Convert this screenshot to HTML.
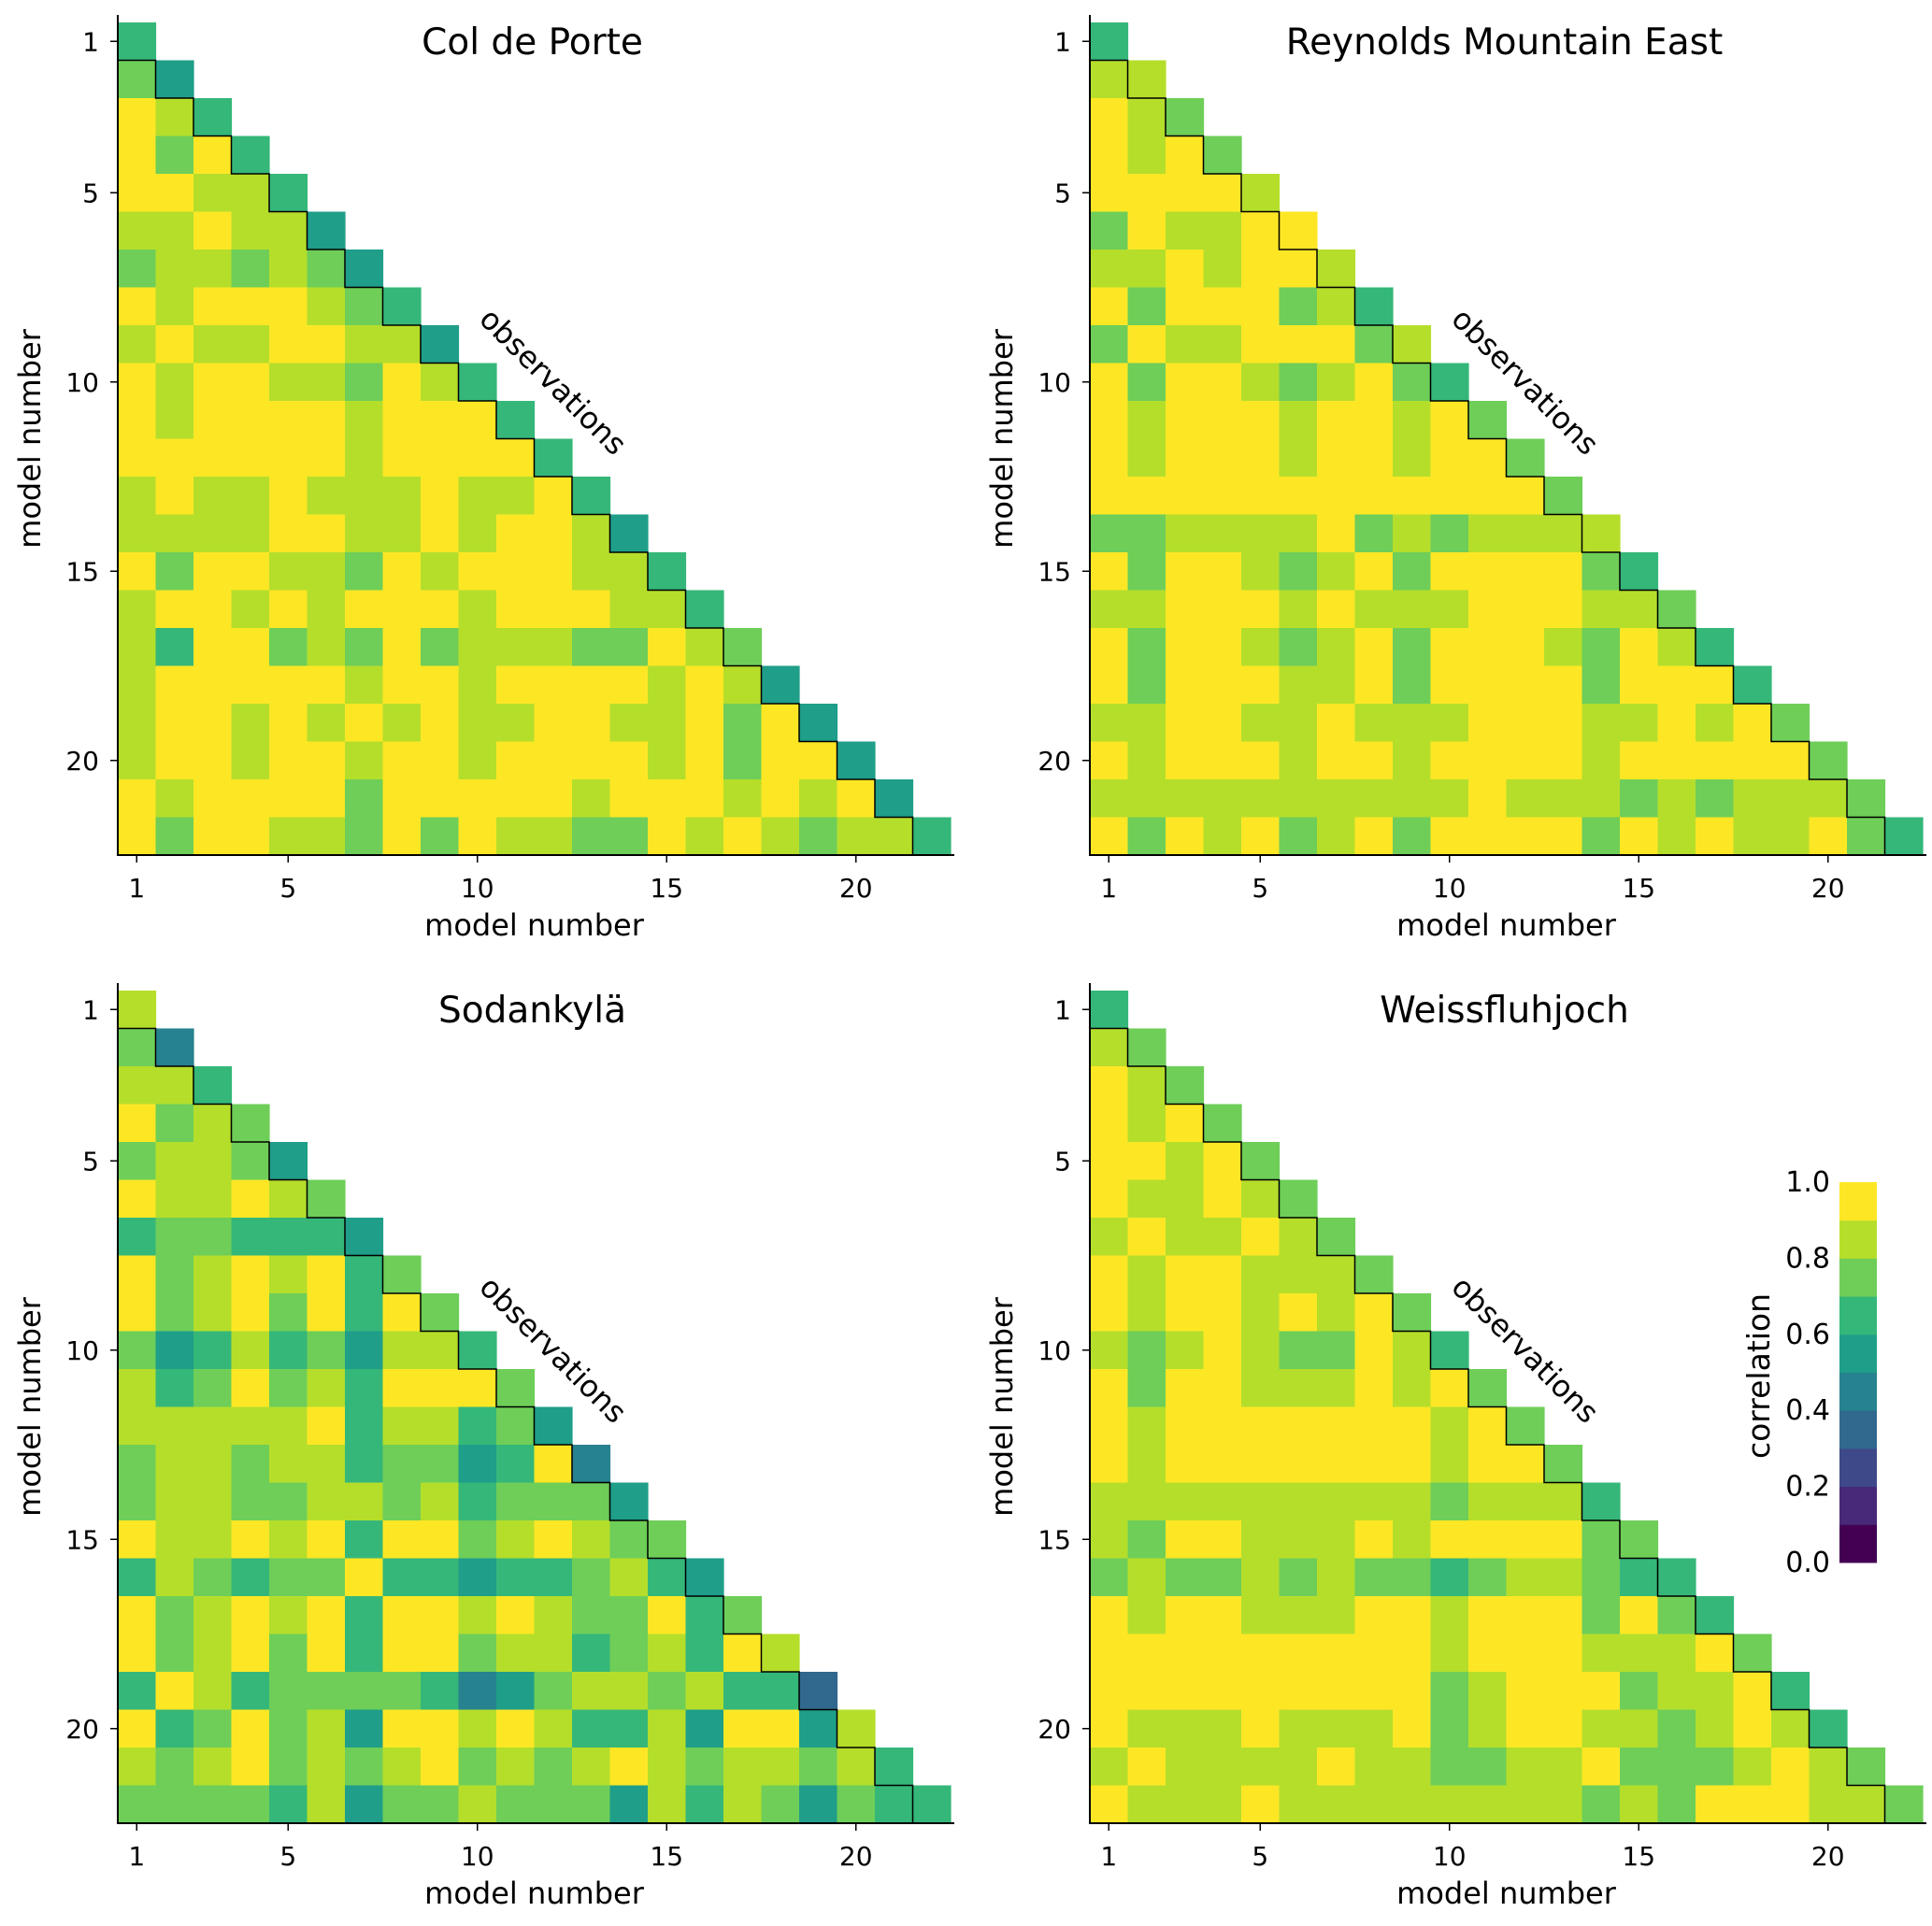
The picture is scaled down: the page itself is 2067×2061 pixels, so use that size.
<!DOCTYPE html>
<html><head><meta charset="utf-8"><style>
html,body{margin:0;padding:0;background:#fff;}
svg{display:block;font-family:"DejaVu Sans","Liberation Sans",sans-serif;}
</style></head><body>
<svg id="fig" width="2067" height="2061" viewBox="0 0 2067 2061" xmlns="http://www.w3.org/2000/svg"></svg>
<script>
// Per-panel lower-triangular correlation matrices (row i has i values; last value = diagonal/observations)
const colDePorte = [
[.65],
[.75,.55],
[.95,.85,.65],
[.95,.75,.95,.65],
[.95,.95,.85,.85,.65],
[.85,.85,.95,.85,.85,.55],
[.75,.85,.85,.75,.85,.75,.55],
[.95,.85,.95,.95,.95,.85,.75,.65],
[.85,.95,.85,.85,.95,.95,.85,.85,.55],
[.95,.85,.95,.95,.85,.85,.75,.95,.85,.65],
[.95,.85,.95,.95,.95,.95,.85,.95,.95,.95,.65],
[.95,.95,.95,.95,.95,.95,.85,.95,.95,.95,.95,.65],
[.85,.95,.85,.85,.95,.85,.85,.85,.95,.85,.85,.95,.65],
[.85,.85,.85,.85,.95,.95,.85,.85,.95,.85,.95,.95,.85,.55],
[.95,.75,.95,.95,.85,.85,.75,.95,.85,.95,.95,.95,.85,.85,.65],
[.85,.95,.95,.85,.95,.85,.95,.95,.95,.85,.95,.95,.95,.85,.85,.65],
[.85,.65,.95,.95,.75,.85,.75,.95,.75,.85,.85,.85,.75,.75,.95,.85,.75],
[.85,.95,.95,.95,.95,.95,.85,.95,.95,.85,.95,.95,.95,.95,.85,.95,.85,.55],
[.85,.95,.95,.85,.95,.85,.95,.85,.95,.85,.85,.95,.95,.85,.85,.95,.75,.95,.55],
[.85,.95,.95,.85,.95,.95,.85,.95,.95,.85,.95,.95,.95,.95,.85,.95,.75,.95,.95,.55],
[.95,.85,.95,.95,.95,.95,.75,.95,.95,.95,.95,.95,.85,.95,.95,.95,.85,.95,.85,.95,.55],
[.95,.75,.95,.95,.85,.85,.75,.95,.75,.95,.85,.85,.75,.75,.95,.85,.95,.85,.75,.85,.85,.65]
];
const reynolds = [
[.65],
[.85,.85],
[.95,.85,.75],
[.95,.85,.95,.75],
[.95,.95,.95,.95,.85],
[.75,.95,.85,.85,.95,.95],
[.85,.85,.95,.85,.95,.95,.85],
[.95,.75,.95,.95,.95,.75,.85,.65],
[.75,.95,.85,.85,.95,.95,.95,.75,.85],
[.95,.75,.95,.95,.85,.75,.85,.95,.75,.65],
[.95,.85,.95,.95,.95,.85,.95,.95,.85,.95,.75],
[.95,.85,.95,.95,.95,.85,.95,.95,.85,.95,.95,.75],
[.95,.95,.95,.95,.95,.95,.95,.95,.95,.95,.95,.95,.75],
[.75,.75,.85,.85,.85,.85,.95,.75,.85,.75,.85,.85,.85,.85],
[.95,.75,.95,.95,.85,.75,.85,.95,.75,.95,.95,.95,.95,.75,.65],
[.85,.85,.95,.95,.95,.85,.95,.85,.85,.85,.95,.95,.95,.85,.85,.75],
[.95,.75,.95,.95,.85,.75,.85,.95,.75,.95,.95,.95,.85,.75,.95,.85,.65],
[.95,.75,.95,.95,.95,.85,.85,.95,.75,.95,.95,.95,.95,.75,.95,.95,.95,.65],
[.85,.85,.95,.95,.85,.85,.95,.85,.85,.85,.95,.95,.95,.85,.85,.95,.85,.95,.75],
[.95,.85,.95,.95,.95,.85,.95,.95,.85,.95,.95,.95,.95,.85,.95,.95,.95,.95,.95,.75],
[.85,.85,.85,.85,.85,.85,.85,.85,.85,.85,.95,.85,.85,.85,.75,.85,.75,.85,.85,.85,.75],
[.95,.75,.95,.85,.95,.75,.85,.95,.75,.95,.95,.95,.95,.75,.95,.85,.95,.85,.85,.95,.75,.65]
];
const sodankyla = [
[.85],
[.75,.45],
[.85,.85,.65],
[.95,.75,.85,.75],
[.75,.85,.85,.75,.55],
[.95,.85,.85,.95,.85,.75],
[.65,.75,.75,.65,.65,.65,.55],
[.95,.75,.85,.95,.85,.95,.65,.75],
[.95,.75,.85,.95,.75,.95,.65,.95,.75],
[.75,.55,.65,.85,.65,.75,.55,.85,.85,.65],
[.85,.65,.75,.95,.75,.85,.65,.95,.95,.95,.75],
[.85,.85,.85,.85,.85,.95,.65,.85,.85,.65,.75,.55],
[.75,.85,.85,.75,.85,.85,.65,.75,.75,.55,.65,.95,.45],
[.75,.85,.85,.75,.75,.85,.85,.75,.85,.65,.75,.75,.75,.55],
[.95,.85,.85,.95,.85,.95,.65,.95,.95,.75,.85,.95,.85,.75,.75],
[.65,.85,.75,.65,.75,.75,.95,.65,.65,.55,.65,.65,.75,.85,.65,.55],
[.95,.75,.85,.95,.85,.95,.65,.95,.95,.85,.95,.85,.75,.75,.95,.65,.75],
[.95,.75,.85,.95,.75,.95,.65,.95,.95,.75,.85,.85,.65,.75,.85,.65,.95,.85],
[.65,.95,.85,.65,.75,.75,.75,.75,.65,.45,.55,.75,.85,.85,.75,.85,.65,.65,.35],
[.95,.65,.75,.95,.75,.85,.55,.95,.95,.85,.95,.85,.65,.65,.85,.55,.95,.95,.55,.85],
[.85,.75,.85,.95,.75,.85,.75,.85,.95,.75,.85,.75,.85,.95,.85,.75,.85,.85,.75,.85,.65],
[.75,.75,.75,.75,.65,.85,.55,.75,.75,.85,.75,.75,.75,.55,.85,.65,.85,.75,.55,.75,.65,.65]
];
const weissfluhjoch = [
[.65],
[.85,.75],
[.95,.85,.75],
[.95,.85,.95,.75],
[.95,.95,.85,.95,.75],
[.95,.85,.85,.95,.85,.75],
[.85,.95,.85,.85,.95,.85,.75],
[.95,.85,.95,.95,.85,.85,.85,.75],
[.95,.85,.95,.95,.85,.95,.85,.95,.75],
[.85,.75,.85,.95,.85,.75,.75,.95,.85,.65],
[.95,.75,.95,.95,.85,.85,.85,.95,.85,.95,.75],
[.95,.85,.95,.95,.95,.95,.95,.95,.95,.85,.95,.75],
[.95,.85,.95,.95,.95,.95,.95,.95,.95,.85,.95,.95,.75],
[.85,.85,.85,.85,.85,.85,.85,.85,.85,.75,.85,.85,.85,.65],
[.85,.75,.95,.95,.85,.85,.85,.95,.85,.95,.95,.95,.95,.75,.75],
[.75,.85,.75,.75,.85,.75,.85,.75,.75,.65,.75,.85,.85,.75,.65,.65],
[.95,.85,.95,.95,.85,.85,.85,.95,.95,.85,.95,.95,.95,.75,.95,.75,.65],
[.95,.95,.95,.95,.95,.95,.95,.95,.95,.85,.95,.95,.95,.85,.85,.85,.95,.75],
[.95,.95,.95,.95,.95,.95,.95,.95,.95,.75,.85,.95,.95,.95,.75,.85,.85,.95,.65],
[.95,.85,.85,.85,.95,.85,.85,.85,.95,.75,.85,.95,.95,.85,.85,.75,.85,.95,.85,.65],
[.85,.95,.85,.85,.85,.85,.95,.85,.85,.75,.75,.85,.85,.95,.75,.75,.75,.85,.95,.85,.75],
[.95,.85,.85,.85,.95,.85,.85,.85,.85,.85,.85,.85,.85,.75,.85,.75,.95,.95,.95,.85,.85,.75]
];
const panelTitles = ["Col de Porte","Reynolds Mountain East","Sodankylä","Weissfluhjoch"];
const tickValues = [1,5,10,15,20];
const tickLabels = ["1","5","10","15","20"];
const cbarTicks = [0.0,0.2,0.4,0.6,0.8,1.0];
const cbarLabels = ["0.0","0.2","0.4","0.6","0.8","1.0"];
const palette = ["#440154","#482878","#3e4989","#31688e","#26828e","#1f9e89","#35b779","#6ece58","#b5de2b","#fde725"];

const NS = "http://www.w3.org/2000/svg";
const svg = document.getElementById('fig');
function mk(tag, attrs, parent){
  const e = document.createElementNS(NS, tag);
  for (const k in attrs) e.setAttribute(k, attrs[k]);
  (parent||svg).appendChild(e);
  return e;
}
function colorOf(v){ let b = Math.floor(v*10); if (b>9) b=9; if (b<0) b=0; return palette[b]; }

const N = 22, CW = 40.5;
const panels = [
  {data: colDePorte, x0: 126, y0: 24},
  {data: reynolds, x0: 1166, y0: 24},
  {data: sodankyla, x0: 126, y0: 1060},
  {data: weissfluhjoch, x0: 1166, y0: 1060}
];

panels.forEach((p, pi) => {
  const g = mk('g', {});
  
  
  const xs = c => p.x0 + (c-1)*CW;
  const ys = r => p.y0 + (r-1)*CW;
  p.data.forEach((row, ri) => {
    row.forEach((v, ci) => {
      const r = mk('rect', {x: xs(ci+1), y: ys(ri+1), width: CW+0.6, height: CW+0.6, fill: colorOf(v)}, g);
      
      
    });
  });
  let d = 'M' + p.x0 + ',' + ys(2);
  for (let k=1; k<=N-1; k++){ d += ' H' + xs(k+1) + ' V' + ys(k+2 > N+1 ? N+1 : k+2); }
  const st = mk('path', {d: d, fill: 'none', stroke: '#000', 'stroke-width': 1.5}, g);
  
  
  const bottom = p.y0 + N*CW, right = p.x0 + N*CW;
  const sp1 = mk('line', {x1: p.x0, y1: p.y0-8, x2: p.x0, y2: bottom, stroke:'#000','stroke-width':2}, g);
  
  
  const sp2 = mk('line', {x1: p.x0-1, y1: bottom, x2: right+4, y2: bottom, stroke:'#000','stroke-width':2}, g);
  
  
  tickValues.forEach((tv, ti) => {
    const cx = xs(tv) + CW/2, cy = ys(tv) + CW/2;
    mk('line', {x1: cx, y1: bottom, x2: cx, y2: bottom+8, stroke:'#000','stroke-width':1.5}, g);
    const tx = mk('text', {x: cx, y: bottom+45, 'font-size': 28, 'text-anchor':'middle', fill:'#000'}, g);
    tx.textContent = tickLabels[ti];
    
    
    mk('line', {x1: p.x0-8, y1: cy, x2: p.x0, y2: cy, stroke:'#000','stroke-width':1.5}, g);
    const ty = mk('text', {x: p.x0-20, y: cy+10, 'font-size': 28, 'text-anchor':'end', fill:'#000'}, g);
    ty.textContent = tickLabels[ti];
    
    
  });
  const midx = p.x0 + N*CW/2, midy = p.y0 + N*CW/2;
  const xl = mk('text', {x: midx, y: bottom+86, 'font-size': 32, 'text-anchor':'middle', fill:'#000'}, g);
  xl.textContent = 'model number';
  
  
  const yl = mk('text', {x: 0, y: 0, 'font-size': 32, 'text-anchor':'middle', fill:'#000', transform: 'translate(' + (p.x0-83) + ',' + midy + ') rotate(-90)'}, g);
  yl.textContent = 'model number';
  
  
  const tt = mk('text', {x: midx - 2, y: p.y0+34, 'font-size': 39, 'text-anchor':'middle', fill:'#000'}, g);
  tt.textContent = panelTitles[pi];
  
  
  const ob = mk('text', {x: 0, y: 0, 'font-size': 32, 'text-anchor':'middle', fill:'#000', transform: 'translate(' + (p.x0+458) + ',' + (p.y0+392) + ') rotate(45)'}, g);
  ob.textContent = 'observations';
  
  
});

const cb = mk('g', {});


const cbX = 1968, cbW = 40, cbTop = 1265, cbBot = 1672;
const cbY = v => cbBot - v*(cbBot-cbTop);
palette.forEach((c, i) => {
  const r = mk('rect', {x: cbX, y: cbY((i+1)/10), width: cbW, height: (cbBot-cbTop)/10 + 0.5, fill: c}, cb);
  
  
});
cbarTicks.forEach((t, i) => {
  const tx = mk('text', {x: cbX-10, y: cbY(t)+10, 'font-size': 30, 'text-anchor':'end', fill:'#000'}, cb);
  tx.textContent = cbarLabels[i];
  
  
});
const cl = mk('text', {x: 0, y: 0, 'font-size': 33, 'text-anchor':'middle', fill:'#000', transform: 'translate(1893,' + ((cbTop+cbBot)/2 + 4) + ') rotate(-90)'}, cb);
cl.textContent = 'correlation';


</script>
</body></html>
